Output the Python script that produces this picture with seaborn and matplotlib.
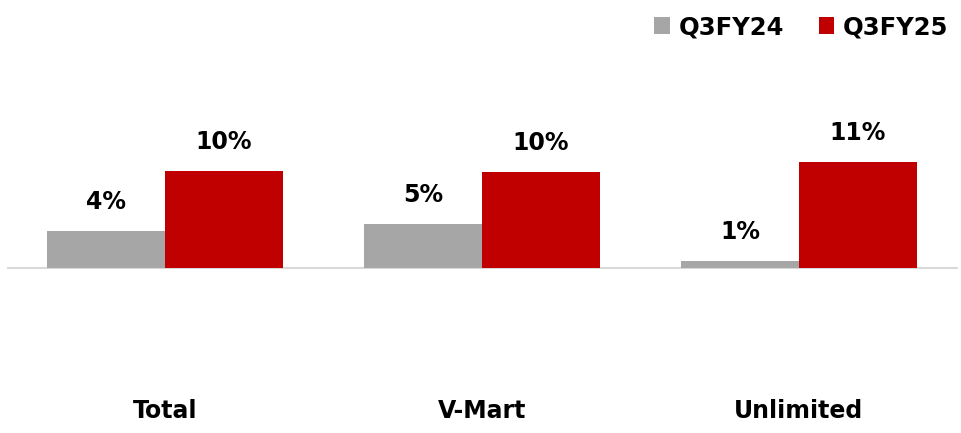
import matplotlib
matplotlib.use("Agg")
import matplotlib.pyplot as plt
import seaborn as sns
import pandas as pd

categories = ["Total", "V-Mart", "Unlimited"]
series_names = ["Q3FY24", "Q3FY25"]
values_fy24 = [3.7, 4.4, 0.7]
values_fy25 = [9.8, 9.7, 10.7]
labels_fy24 = ["4%", "5%", "1%"]
labels_fy25 = ["10%", "10%", "11%"]
colors = ["#A6A6A6", "#C00000"]

df = pd.DataFrame({
    "category": categories * 2,
    "series": [series_names[0]] * 3 + [series_names[1]] * 3,
    "value": values_fy24 + values_fy25,
})

sns.set_theme(style="white")
plt.rcParams["font.family"] = ["DejaVu Sans"]

fig = plt.figure(figsize=(9.61, 4.33), dpi=100)
ax = fig.add_axes([6.5 / 961, (433 - 380) / 433, 951 / 961, 320 / 433])

sns.barplot(data=df, x="category", y="value", hue="series", order=categories,
            hue_order=series_names, palette=colors, width=0.745, gap=0,
            saturation=1, ax=ax, errorbar=None, linewidth=0)

ax.set_xlim(-0.5, 2.5)
ax.set_ylim(-11.3, 21.0)
ax.axhline(0, color="#D9D9D9", lw=1.5, zorder=0)
for s in ax.spines.values():
    s.set_visible(False)
ax.set_yticks([])
ax.set_xlabel("")
ax.set_ylabel("")
ax.tick_params(axis="x", length=0, pad=14)
ax.set_xticks(range(len(categories)))
ax.set_xticklabels(categories, fontsize=17, fontweight="bold", color="black", va="top")

ax.bar_label(ax.containers[0], labels=labels_fy24, padding=12.5, fontsize=17,
             fontweight="bold", color="black")
ax.bar_label(ax.containers[1], labels=labels_fy25, padding=12.5, fontsize=17,
             fontweight="bold", color="black")

sns.move_legend(ax, "center right", bbox_to_anchor=(948 / 961, 1 - 27 / 433),
                bbox_transform=fig.transFigure, ncol=2, frameon=False, title=None,
                fontsize=17.5, handlelength=0.65, handleheight=0.65, handletextpad=0.33,
                columnspacing=1.44, borderaxespad=0, borderpad=0)
for t in ax.get_legend().get_texts():
    t.set_fontweight("bold")
    t.set_color("black")

fig.savefig("out.png", dpi=100)
